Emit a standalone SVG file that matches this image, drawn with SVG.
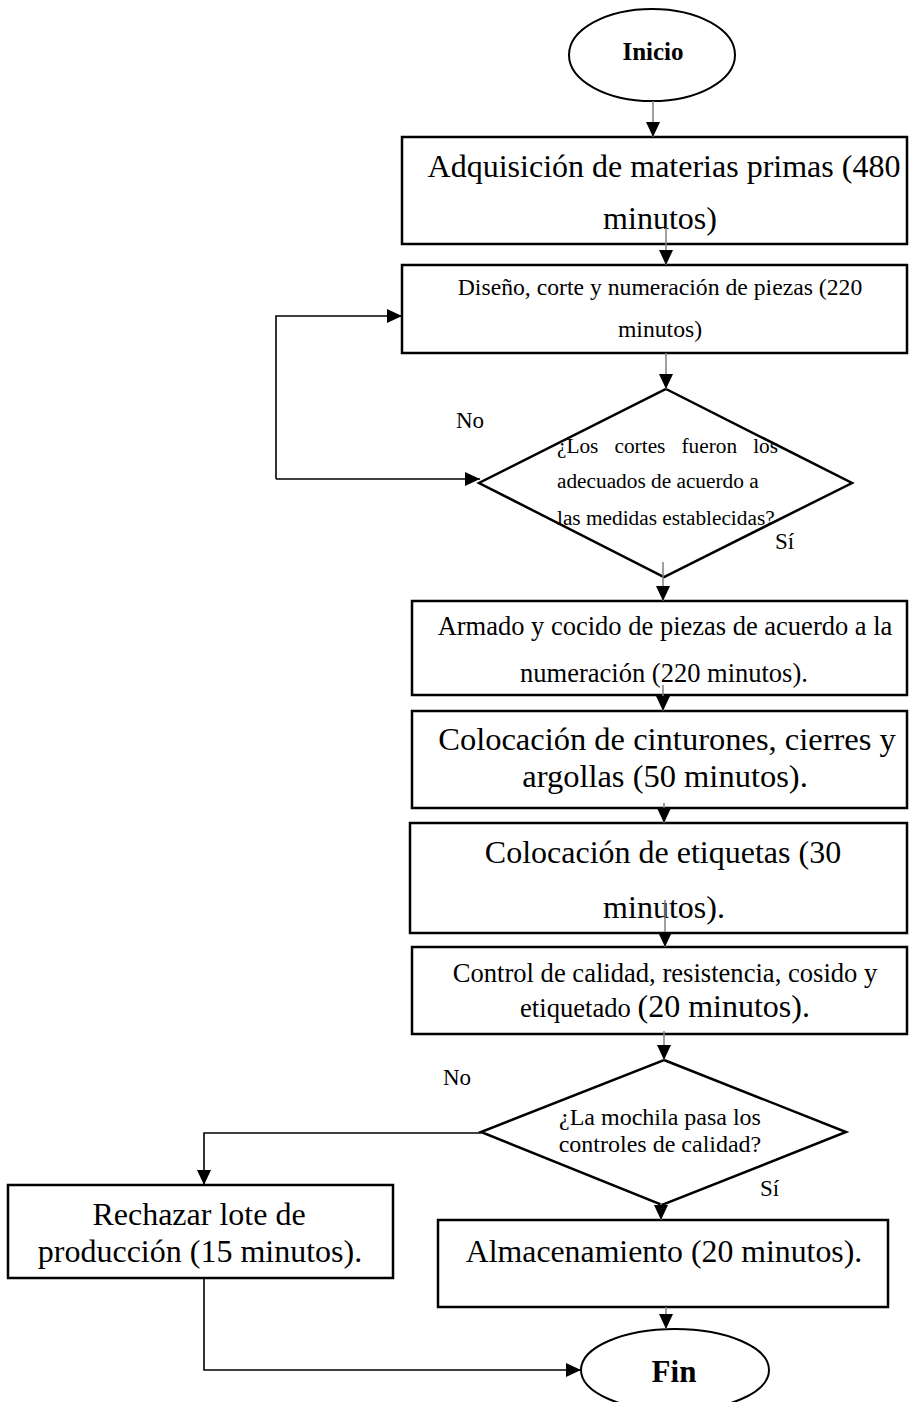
<svg xmlns="http://www.w3.org/2000/svg" width="909" height="1402" viewBox="0 0 909 1402">
<style>
  .shape { fill: #ffffff; stroke: #000000; stroke-width: 2.5; }
  .ell { fill: #ffffff; stroke: #000000; stroke-width: 2; }
  .t { font-family: "Liberation Serif", "Times New Roman", serif; fill: #000000; }
  .c { text-anchor: middle; }
  .b { font-weight: bold; }
  .conn { fill: none; stroke: #808080; stroke-width: 1.5; }
  .connk { fill: none; stroke: #000000; stroke-width: 1.6; }
</style>
<defs>
  <marker id="arrow" markerUnits="userSpaceOnUse" markerWidth="15" markerHeight="14" refX="15" refY="7" orient="auto">
    <path d="M0,0 L15,7 L0,14 Z" fill="#000000"/>
  </marker>
</defs>
<rect x="0" y="0" width="909" height="1402" fill="#ffffff"/>

<g id="inicio">
  <ellipse class="ell" cx="652" cy="55" rx="83" ry="46"/>
  <text class="t c b" x="653" y="60" font-size="25">Inicio</text>
</g>

<g id="adquisicion">
  <rect class="shape" x="402" y="137" width="505" height="107"/>
  <text class="t c" x="664" y="177" font-size="32">Adquisición de materias primas (480</text>
  <text class="t c" x="660" y="229" font-size="32">minutos)</text>
</g>

<g id="diseno">
  <rect class="shape" x="402" y="265" width="505" height="88"/>
  <text class="t c" x="660" y="295" font-size="23.7">Diseño, corte y numeración de piezas (220</text>
  <text class="t c" x="660" y="337" font-size="23.7">minutos)</text>
</g>

<g id="decision1">
  <polygon class="shape" points="666,389 852,483 664,577 479,483"/>
  <text class="t" x="557" y="453" font-size="21.3" word-spacing="10.8">¿Los cortes fueron los</text>
  <text class="t" x="557" y="488" font-size="21.3">adecuados de acuerdo a</text>
  <text class="t" x="557" y="525" font-size="21.3">las medidas establecidas?</text>
</g>

<g id="armado">
  <rect class="shape" x="412" y="601" width="495" height="94"/>
  <text class="t c" x="665" y="635" font-size="26.5">Armado y cocido de piezas de acuerdo a la</text>
  <text class="t c" x="664" y="682" font-size="26.5">numeración (220 minutos).</text>
</g>

<g id="cinturones">
  <rect class="shape" x="412" y="711" width="495" height="97"/>
  <text class="t c" x="667" y="750" font-size="32.5">Colocación de cinturones, cierres y</text>
  <text class="t c" x="665" y="787" font-size="32.5">argollas (50 minutos).</text>
</g>

<g id="etiquetas">
  <rect class="shape" x="410" y="823" width="497" height="110"/>
  <text class="t c" x="663" y="863" font-size="32">Colocación de etiquetas (30</text>
  <text class="t c" x="664" y="918" font-size="32">minutos).</text>
</g>

<g id="control">
  <rect class="shape" x="412" y="947" width="495" height="87"/>
  <text class="t c" x="665" y="982" font-size="26.6">Control de calidad, resistencia, cosido y</text>
  <text class="t c" x="665" y="1017" font-size="26.6">etiquetado <tspan font-size="32">(20 minutos).</tspan></text>
</g>

<g id="decision2">
  <polygon class="shape" points="664,1060 846,1132 662,1205 481,1132"/>
  <text class="t c" x="660" y="1125" font-size="24">¿La mochila pasa los</text>
  <text class="t c" x="660" y="1152" font-size="24">controles de calidad?</text>
</g>

<g id="rechazar">
  <rect class="shape" x="8" y="1185" width="385" height="93"/>
  <text class="t c" x="199" y="1225" font-size="32">Rechazar lote de</text>
  <text class="t c" x="200" y="1262" font-size="32">producción (15 minutos).</text>
</g>

<g id="almacenamiento">
  <rect class="shape" x="438" y="1220" width="450" height="87"/>
  <text class="t c" x="664" y="1262" font-size="31.8">Almacenamiento (20 minutos).</text>
</g>

<g id="fin">
  <ellipse class="ell" cx="675" cy="1370" rx="94" ry="41"/>
  <text class="t c b" x="674" y="1382" font-size="31">Fin</text>
</g>

<g id="labels">
  <text class="t" x="456" y="428" font-size="23">No</text>
  <text class="t" x="775" y="549" font-size="23">Sí</text>
  <text class="t" x="443" y="1085" font-size="23">No</text>
  <text class="t" x="760" y="1196" font-size="23">Sí</text>
</g>

<g id="connectors">
  <path class="conn" d="M653,101 V137" marker-end="url(#arrow)"/>
  <path class="conn" d="M666,228 V265" marker-end="url(#arrow)"/>
  <path class="conn" d="M666,353 V389" marker-end="url(#arrow)"/>
  <path class="conn" d="M663,562 V601" marker-end="url(#arrow)"/>
  <path class="conn" d="M663,685 V711" marker-end="url(#arrow)"/>
  <path class="conn" d="M664,803 V823" marker-end="url(#arrow)"/>
  <path class="conn" d="M665,900 V947" marker-end="url(#arrow)"/>
  <path class="conn" d="M664,1031 V1060" marker-end="url(#arrow)"/>
  <path class="conn" d="M661,1203 V1220" marker-end="url(#arrow)"/>
  <path class="conn" d="M666,1307 V1329" marker-end="url(#arrow)"/>
  <path class="connk" d="M276,479 V316 H402" marker-end="url(#arrow)"/>
  <path class="connk" d="M276,479 H480" marker-end="url(#arrow)"/>
  <path class="connk" d="M481,1133 H204 V1185" marker-end="url(#arrow)"/>
  <path class="connk" d="M204,1278 V1370 H581" marker-end="url(#arrow)"/>
</g>
</svg>
